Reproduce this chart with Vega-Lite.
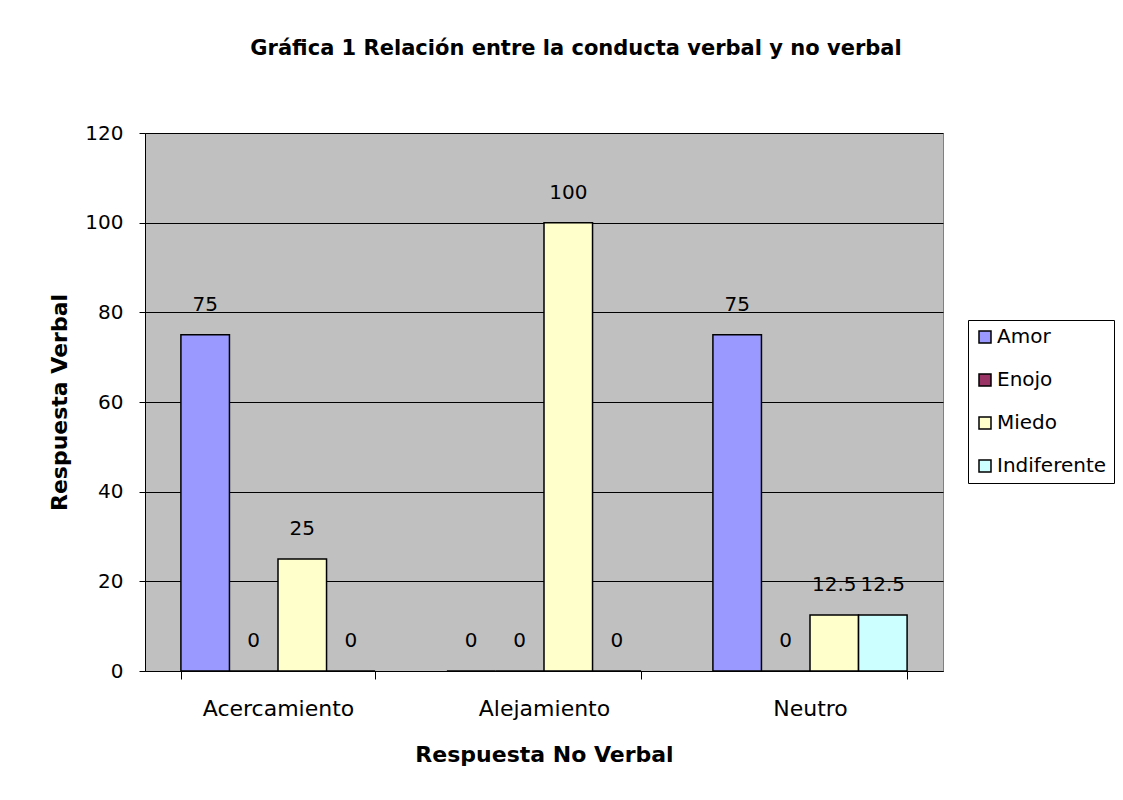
{
  "$schema": "https://vega.github.io/schema/vega-lite/v6.json",
  "autosize": "none",
  "width": 798,
  "height": 538,
  "padding": {"left": 145, "top": 133, "right": 180, "bottom": 129},
  "background": "white",
  "title": {
    "text": "Gráfica 1 Relación entre la conducta verbal y no verbal",
    "font": "DejaVu Sans",
    "fontSize": 21,
    "fontWeight": "bold",
    "color": "black",
    "anchor": "middle",
    "dx": 32,
    "offset": 64
  },
  "data": {
    "values": [
      {"respuesta": "Acercamiento", "emocion": "Amor", "valor": 75},
      {"respuesta": "Acercamiento", "emocion": "Enojo", "valor": 0},
      {"respuesta": "Acercamiento", "emocion": "Miedo", "valor": 25},
      {"respuesta": "Acercamiento", "emocion": "Indiferente", "valor": 0},
      {"respuesta": "Alejamiento", "emocion": "Amor", "valor": 0},
      {"respuesta": "Alejamiento", "emocion": "Enojo", "valor": 0},
      {"respuesta": "Alejamiento", "emocion": "Miedo", "valor": 100},
      {"respuesta": "Alejamiento", "emocion": "Indiferente", "valor": 0},
      {"respuesta": "Neutro", "emocion": "Amor", "valor": 75},
      {"respuesta": "Neutro", "emocion": "Enojo", "valor": 0},
      {"respuesta": "Neutro", "emocion": "Miedo", "valor": 12.5},
      {"respuesta": "Neutro", "emocion": "Indiferente", "valor": 12.5}
    ]
  },
  "encoding": {
    "x": {
      "field": "respuesta",
      "type": "nominal",
      "sort": ["Acercamiento", "Alejamiento", "Neutro"],
      "scale": {"paddingInner": 0.27, "paddingOuter": 0.135},
      "axis": {
        "title": "Respuesta No Verbal",
        "titleFont": "DejaVu Sans",
        "titleFontSize": 22,
        "titleFontWeight": "bold",
        "titleColor": "black",
        "titlePadding": 25,
        "labelFont": "DejaVu Sans",
        "labelFontSize": 22,
        "labelColor": "black",
        "labelAngle": 0,
        "labelPadding": 19,
        "tickBand": "extent",
        "tickSize": 8,
        "tickColor": "black",
        "domainColor": "black",
        "grid": false
      }
    },
    "xOffset": {
      "field": "emocion",
      "type": "nominal",
      "sort": ["Amor", "Enojo", "Miedo", "Indiferente"],
      "scale": {"paddingInner": 0, "paddingOuter": 0}
    },
    "y": {
      "field": "valor",
      "type": "quantitative",
      "scale": {"domain": [0, 120], "nice": false},
      "axis": {
        "values": [0, 20, 40, 60, 80, 100, 120],
        "title": "Respuesta Verbal",
        "titleFont": "DejaVu Sans",
        "titleFontSize": 22,
        "titleFontWeight": "bold",
        "titleColor": "black",
        "titlePadding": 13,
        "labelFont": "DejaVu Sans",
        "labelFontSize": 20,
        "labelColor": "black",
        "labelPadding": 16,
        "tickSize": 6,
        "tickColor": "black",
        "domainColor": "black",
        "grid": true,
        "gridColor": "black",
        "gridWidth": 1
      }
    }
  },
  "layer": [
    {
      "mark": {"type": "bar", "stroke": "black", "strokeWidth": 1.5},
      "encoding": {
        "color": {
          "field": "emocion",
          "type": "nominal",
          "sort": ["Amor", "Enojo", "Miedo", "Indiferente"],
          "scale": {
            "domain": ["Amor", "Enojo", "Miedo", "Indiferente"],
            "range": ["#9999FF", "#993366", "#FFFFCC", "#CCFFFF"]
          },
          "legend": {
            "title": null,
            "orient": "none",
            "legendX": 823,
            "legendY": 187,
            "direction": "vertical",
            "fillColor": "white",
            "strokeColor": "black",
            "padding": 7,
            "symbolType": "square",
            "symbolSize": 144,
            "symbolStrokeColor": "black",
            "symbolStrokeWidth": 1.5,
            "labelFont": "DejaVu Sans",
            "labelFontSize": 20,
            "labelColor": "black",
            "labelOffset": 2,
            "rowPadding": 23
          }
        }
      }
    },
    {
      "mark": {
        "type": "text",
        "font": "DejaVu Sans",
        "fontSize": 20,
        "color": "black",
        "baseline": "middle",
        "dy": -30
      },
      "encoding": {
        "text": {"field": "valor", "type": "quantitative"}
      }
    }
  ],
  "config": {
    "view": {"fill": "#C0C0C0", "stroke": "#808080", "strokeWidth": 1}
  }
}
